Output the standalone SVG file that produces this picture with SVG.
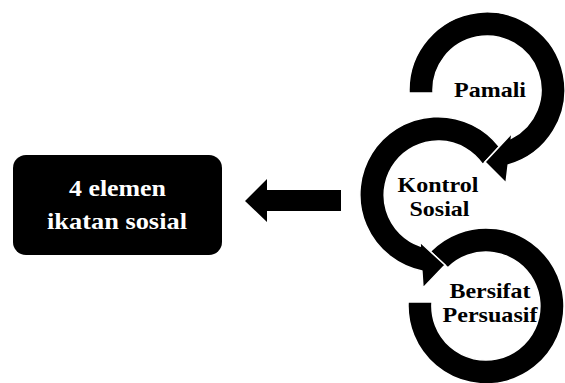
<svg xmlns="http://www.w3.org/2000/svg" width="565" height="383" viewBox="0 0 565 383">
  <style>
    .ring { fill: #000; stroke: #fff; stroke-width: 1.5; stroke-linejoin: miter; }
    .lbl { font-family: 'Liberation Serif', 'DejaVu Serif', serif; font-weight: bold; font-size: 21px; fill: #000; text-anchor: middle; }
    .boxlbl { font-family: 'Liberation Serif', 'DejaVu Serif', serif; font-weight: bold; font-size: 23px; fill: #fff; text-anchor: middle; }
  </style>
  <rect width="565" height="383" fill="#fff"/>

  <g id="node-elemen">
    <rect x="13" y="155" width="209" height="100" rx="13" ry="13" fill="#000"/>
    <text class="boxlbl" x="117.5" y="196" textLength="97" lengthAdjust="spacingAndGlyphs">4 elemen</text>
    <text class="boxlbl" x="117" y="229" textLength="140" lengthAdjust="spacingAndGlyphs">ikatan sosial</text>
  </g>

  <g id="connectors">
    <polygon points="245,201 267,179 267,190 341,190 341,211 267,211 267,222" fill="#000"/>
  </g>

  <g id="node-bersifat">
    <path class="ring" d="M430.25,251.4 A78,78 0 1 1 408.1,302 L432.05,302 A54,54 0 1 0 447.9,267.7 Z"/>
    <text class="lbl" x="490" y="298" textLength="81" lengthAdjust="spacingAndGlyphs">Bersifat</text>
    <text class="lbl" x="490" y="322" textLength="95" lengthAdjust="spacingAndGlyphs">Persuasif</text>
  </g>

  <g id="node-kontrol">
    <path class="ring" d="M499.3,146.6 A78,78 0 1 0 421.9,271 L423,288 L445,265 L420,242 L420.26,246 A54,54 0 1 1 482.7,164.5 Z"/>
    <text class="lbl" x="438" y="192" textLength="81" lengthAdjust="spacingAndGlyphs">Kontrol</text>
    <text class="lbl" x="439.5" y="216" textLength="60" lengthAdjust="spacingAndGlyphs">Sosial</text>
  </g>

  <g id="node-pamali">
    <path class="ring" d="M409.06,93 A78,78 0 1 1 508.16,165 L506,183 L485,162 L512,133 L511.38,138.2 A54,54 0 1 0 433.08,93 Z"/>
    <text class="lbl" x="490" y="97" textLength="72" lengthAdjust="spacingAndGlyphs">Pamali</text>
  </g>
</svg>
